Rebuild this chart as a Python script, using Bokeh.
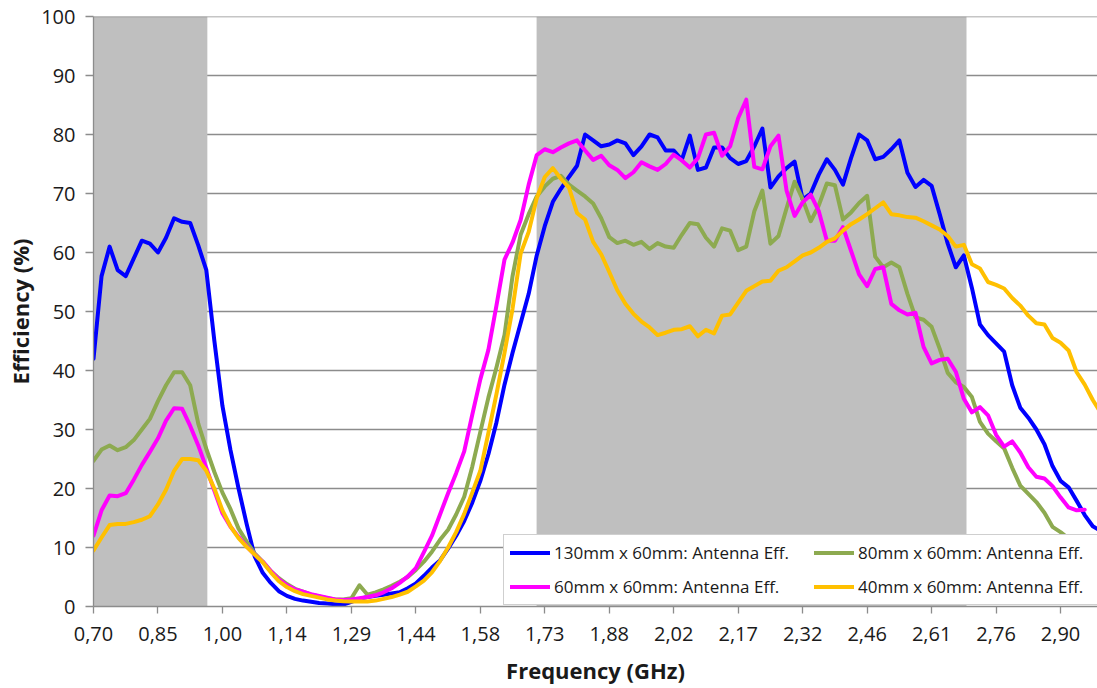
from bokeh.plotting import figure
from bokeh.models import (FixedTicker, Legend, LegendItem, Range1d, Span,
                          CustomJSTickFormatter)
from bokeh.embed import file_html
from bokeh.resources import INLINE

# ---------------- data ----------------
FREQ_START = 0.70      # GHz, first sample
FREQ_STEP = 0.018333   # GHz between samples
TICK_EVERY = 8         # samples between labelled ticks

tick_labels = ["0,70", "0,85", "1,00", "1,14", "1,29", "1,44", "1,58", "1,73",
               "1,88", "2,02", "2,17", "2,32", "2,46", "2,61", "2,76", "2,90"]
y_ticks = [0, 10, 20, 30, 40, 50, 60, 70, 80, 90, 100]

band_left = [0.70, 1.708]
band_right = [0.959, 2.686]

eff_130 = [42, 56, 61, 57, 56, 59, 62, 61.5, 60, 62.5,
           65.8, 65.2, 65, 61.2, 57, 45, 34, 26.5, 20, 14,
           8.5, 5.7, 4, 2.6, 1.8, 1.3, 1.0, 0.8, 0.6, 0.5,
           0.4, 0.3, 0.8, 1.3, 1.6, 1.8, 2.0, 2.2, 2.4, 3.1,
           3.9, 5.2, 6.6, 7.8, 9.8, 12, 14.5, 17.6, 21.3, 25.8,
           31.2, 37.6, 43, 48, 53, 59.5, 64.5, 68.6, 70.8, 72.8,
           74.7, 80, 79, 78, 78.3, 79, 78.5, 76.5, 78, 80,
           79.5, 77.3, 77.3, 75.7, 79.8, 74, 74.4, 77.8, 77.8, 76,
           75, 75.5, 78, 81, 71, 72.9, 74.3, 75.4, 69, 70,
           73.2, 75.8, 74, 71.5, 76, 80, 79, 75.8, 76.2, 77.5,
           79, 73.5, 71.1, 72.3, 71.3, 66.5, 61.5, 57.5, 59.5, 54,
           47.8, 46, 44.6, 43.2, 37.5, 33.7, 32, 30, 27.5, 23.8,
           21.3, 20.2, 17.9, 15.5, 13.6, 12.8]

eff_80 = [24.7, 26.6, 27.3, 26.5, 27, 28.2, 30, 31.8, 34.8, 37.5,
          39.7, 39.7, 37.5, 31, 26.7, 22.8, 19.3, 16.5, 13.2, 11.0,
          9.0, 7.6, 6.0, 4.8, 3.8, 3.0, 2.5, 2.0, 1.7, 1.4,
          1.2, 1.2, 1.4, 3.6, 2.0, 2.4, 2.9, 3.5, 4.2, 5.0,
          6.2, 7.6, 9.3, 11.3, 13, 15.6, 18.6, 23.7, 29.6, 35.4,
          40.5, 46, 56, 63, 66.5, 69.5, 71.2, 72.5, 73, 71.5,
          70.5, 69.5, 68.3, 65.8, 62.6, 61.6, 62, 61.3, 61.8, 60.6,
          61.6, 61, 60.8, 63, 65, 64.8, 62.5, 61, 64.1, 63.7,
          60.4, 61, 67, 70.5, 61.5, 62.8, 67.5, 72, 69, 65.3,
          68, 71.7, 71.4, 65.6, 66.8, 68.4, 69.6, 59.3, 57.5, 58.3,
          57.5, 53, 49, 48.6, 47.4, 43.7, 39.6, 38, 37.2, 35.5,
          31.3, 29.3, 28, 26.8, 23.5, 20.5, 19.1, 17.7, 15.9, 13.5,
          12.6, 11.5, 10.5, 9.6, 9, 8.5]

eff_60 = [12, 16.3, 18.8, 18.7, 19.2, 21.5, 24, 26.2, 28.5, 31.5,
          33.6, 33.5, 30.6, 27.3, 23.5, 19.6, 15.8, 13.5, 11.8, 10.2,
          8.8, 7.6, 6.0, 4.6, 3.6, 2.9, 2.5, 2.1, 1.8, 1.5,
          1.2, 1.1, 1.2, 1.4, 1.6, 1.9, 2.4, 3.1, 4.0, 5.1,
          6.5, 9.2, 12, 15.6, 19.2, 22.6, 26.3, 32.5, 38.5, 43.5,
          51, 58.8, 61.7, 65.5, 71.5, 76.5, 77.5, 77, 77.8, 78.5,
          79, 77.3, 75.7, 76.4, 74.8, 74, 72.6, 73.6, 75.3, 74.6,
          74, 75, 76.6, 75.6, 74.4, 76, 80, 80.3, 76.4, 78,
          82.8, 85.9, 74.5, 74.1, 78, 79.8, 70.5, 66.2, 68.5, 69.8,
          67, 62, 62, 64.3, 60.3, 56.3, 54.3, 57.2, 57.5, 51.3,
          50.2, 49.5, 49.8, 44, 41.2, 41.8, 42, 39.8, 35.2, 32.9,
          33.8, 32.4, 29.1, 27.1, 28, 26.1, 23.6, 22, 21.7, 20.4,
          18.5, 16.8, 16.3, 16.4]

eff_40 = [9.5, 11.7, 13.8, 14, 14, 14.3, 14.7, 15.3, 17.3, 19.8,
          23, 25, 25, 24.8, 23, 20, 16.3, 13.6, 11.6, 10.1,
          8.8, 7.5, 5.8, 4.3, 3.3, 2.6, 2.1, 1.8, 1.5, 1.2,
          1.0, 0.9, 0.85, 0.85, 0.85, 1.0, 1.3, 1.6, 2.0, 2.5,
          3.4, 4.4, 5.8, 7.7, 10, 12.6, 15.7, 19.3, 23, 29.4,
          36, 43, 50.5, 59.8, 63.5, 69.2, 72.8, 74.3, 72.5, 71,
          66.7, 65.6, 61.8, 59.7, 56.7, 53.6, 51.3, 49.6, 48.3, 47.3,
          46, 46.4, 46.9, 47, 47.5, 45.8, 46.9, 46.3, 49.3, 49.5,
          51.5, 53.5, 54.3, 55.1, 55.2, 56.9, 57.5, 58.5, 59.5, 60,
          60.8, 61.8, 62.4, 63.7, 64.8, 65.6, 66.5, 67.5, 68.5, 66.5,
          66.3, 66, 65.9, 65.3, 64.6, 63.9, 62.8, 61, 61.3, 58,
          57.3, 55, 54.5, 53.9, 52.3, 51, 49.3, 48, 47.8, 45.5,
          44.7, 43.4, 39.7, 37.6, 35, 32.8]

series_names = ["130mm x 60mm: Antenna Eff.", "80mm x 60mm: Antenna Eff.",
                "60mm x 60mm: Antenna Eff.", "40mm x 60mm: Antenna Eff."]
series_values = [eff_130, eff_80, eff_60, eff_40]
series_colors = ["#0000FF", "#8DAA50", "#FF00FF", "#FFC000"]

n_max = max(len(v) for v in series_values)
freq = [round(FREQ_START + i * FREQ_STEP, 6) for i in range(n_max)]
tick_pos = [freq[k * TICK_EVERY] for k in range(len(tick_labels))]

# ---------------- figure ----------------
FONT = "Open Sans"
GRID = "#8C8C8C"

p = figure(width=1097, height=688, output_backend="svg", toolbar_location=None,
           x_range=Range1d(0.70, 2.984), y_range=Range1d(0, 100),
           min_border_left=93, min_border_right=0, min_border_top=16,
           min_border_bottom=82)
p.outline_line_color = None
p.background_fill_color = "white"
p.border_fill_color = "white"

p.xgrid.grid_line_color = None
p.ygrid.grid_line_color = GRID
p.ygrid.grid_line_width = 1.3

p.quad(left=band_left, right=band_right, bottom=0, top=100,
       fill_color="#BFBFBF", line_color=None)

p.add_layout(Span(location=100, dimension="width", line_color=GRID,
                  line_width=1.3))

renderers = []
for vals, col in zip(series_values, series_colors):
    r = p.line(freq[:len(vals)], vals, line_color=col, line_width=4,
               line_join="round", line_cap="round")
    renderers.append(r)

# axes
p.xaxis.ticker = FixedTicker(ticks=tick_pos)
p.xaxis.formatter = CustomJSTickFormatter(
    args=dict(pos=tick_pos, labels=tick_labels),
    code="""
let best = 0;
for (let i = 0; i < pos.length; i++) {
  if (Math.abs(pos[i] - tick) < Math.abs(pos[best] - tick)) best = i;
}
return labels[best];
""")
p.yaxis.ticker = FixedTicker(ticks=y_ticks)

for ax in (p.xaxis[0], p.yaxis[0]):
    ax.axis_line_color = GRID
    ax.axis_line_width = 1.3
    ax.major_tick_line_color = GRID
    ax.major_tick_line_width = 1.3
    ax.major_tick_in = 0
    ax.minor_tick_line_color = None
    ax.major_label_text_font = FONT
    ax.major_label_text_font_size = "20px"
    ax.major_label_text_color = "#1A1A1A"
    ax.axis_label_text_font = FONT
    ax.axis_label_text_font_size = "22px"
    ax.axis_label_text_font_style = "bold"
    ax.axis_label_text_color = "#1A1A1A"

p.xaxis.major_tick_out = 7
p.xaxis.major_label_standoff = 13
p.xaxis.axis_label = "Frequency (GHz)"
p.xaxis.axis_label_standoff = 11

p.yaxis.major_tick_out = 8
p.yaxis.major_label_standoff = 10
p.yaxis.axis_label = "Efficiency (%)"
p.yaxis.axis_label_standoff = 3

legend = Legend(
    items=[LegendItem(label=n, renderers=[r]) for n, r in zip(series_names, renderers)],
    location=(410, 1), orientation="horizontal", ncols=2,
    label_text_font=FONT, label_text_font_size="17px", label_text_color="#1A1A1A",
    glyph_width=40, glyph_height=23, label_height=23, label_width=249,
    label_standoff=4, spacing=11, padding=6, margin=0,
    border_line_color="#A0A0A0", border_line_width=1.5,
    background_fill_color="white", background_fill_alpha=1.0)
p.add_layout(legend)

open("out.html", "w").write(file_html(p, INLINE))
